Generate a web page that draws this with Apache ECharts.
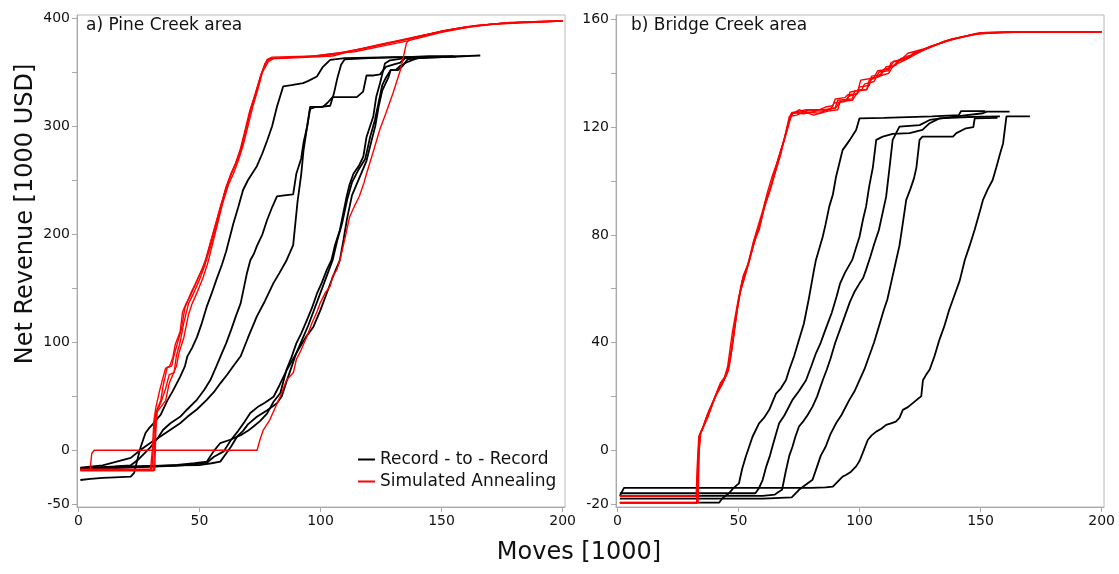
<!DOCTYPE html>
<html>
<head>
<meta charset="utf-8">
<script src="https://cdn.jsdelivr.net/npm/echarts@6/dist/echarts.min.js"></script>
<style>
html,body{margin:0;padding:0;background:#fff;}
#chart{width:1119px;height:574px;}
</style>
</head>
<body>
<div id="chart"></div>
<script>
// ---------- DATA ----------
const panelTitles = ['a) Pine Creek area', 'b) Bridge Creek area'];
const legendNames = ['Record - to - Record', 'Simulated Annealing'];
const xTitle = 'Moves [1000]';
const yTitle = 'Net Revenue [1000 USD]';
const xTicks = [0, 50, 100, 150, 200];
const pineYTicks = [-50, 0, 50, 100, 150, 200, 250, 300, 350, 400];
const pineYLabels = [-50, 0, 100, 200, 300, 400];
const bridgeYTicks = [-20, 0, 20, 40, 60, 80, 100, 120, 140, 160];
const bridgeYLabels = [-20, 0, 40, 80, 120, 160];

// Pine Creek - Record-to-Record
const pineRR1 = [[0.8,-27.5],[5,-26.5],[10,-25.5],[15,-25],[21.6,-24.4],[23,-21],[24.3,-9],[25.7,3],[27.7,16],[29,20],[31,25],[34,33],[36.7,46],[39,55],[42,68],[44,78],[45,87],[47,95],[49,105],[51,118],[53,133],[55,145],[57,158],[59.3,172],[61,184],[64,210],[66,225],[68,241],[70,250],[73.7,263],[76,275],[78,287],[80,300],[82,318],[84.6,337],[88,338],[92.8,340],[95,342],[98.5,346],[101,355],[104,361.5],[110,363],[130,364],[150,364]];
const pineRR2 = [[0.8,-17],[8,-16],[15,-15],[21.5,-14],[25,-8],[29.8,3],[33,12],[35,19],[38,25],[42,31],[45,38],[49,47],[52,56],[54.5,65],[57,78],[58.7,87],[61,99],[63,111],[65,124],[67,136],[69.6,164],[71,176],[72.5,182],[73.7,189],[76,200],[77.9,213],[80,225],[82,235],[85,236],[88.7,237],[90,256],[92,270],[93,285],[94.5,300],[95.7,316],[98,318],[101,318],[103,322],[105,327],[110,327],[115,327],[117.6,332],[119,347],[122,347],[124.6,348],[127,355],[130,357],[133,359],[135.5,364],[145,365],[155,365]];
const pineRR3 = [[0.8,-16],[10,-14],[21.6,-7],[26,1],[29.8,7],[34,13],[38,19],[42,25],[45,31],[49,38],[53,46.6],[56,54],[58.6,62],[61.4,70],[64,78],[67,87],[70,104],[73.7,124],[77,138],[80.6,155],[83,164],[86,176],[88.7,190],[90.5,230],[92,255],[93,278],[94.5,300],[95.7,318],[100,318],[104,319],[105.5,330],[107,345],[108.5,357],[110,362],[120,363],[135,364],[148,364]];
const pineRR4 = [[0.8,-18],[10,-17],[20,-16],[30,-15],[40.8,-13.6],[48,-12],[53,-10.5],[55.8,-1],[58.6,6.7],[63,10],[67,14],[70,18],[72.3,22],[75,27],[77.9,34],[80.6,45],[83.4,53],[86,75],[88,86],[90,99],[92,108],[94.3,120],[96.5,132],[98.5,145],[100.5,155],[102.6,167],[104.5,176],[106,190],[108,204],[110.8,235],[112,246],[113.6,256],[116,264],[117.7,272],[119,290],[121.8,309],[123,327],[124.6,340],[126.6,358],[128.7,361],[135,363],[150,364],[166,365.5]];
const pineRR5 = [[0.8,-16.5],[10,-15.5],[20,-15],[30,-14.5],[40,-14],[50.4,-13.6],[55,-12],[58.6,-10.5],[61,-3],[63,3.3],[65.5,12.6],[68,18],[70,24],[73.7,31],[78,37],[82,43.5],[84,50],[86,64],[88,77],[90,90],[92.5,103],[95,116],[97,128],[99.5,143],[101.5,155],[103.5,167],[105,176],[107,195],[109,211],[111,232],[113,248],[115.5,259],[118.5,270],[120.5,290],[122.5,306],[124,322],[125.5,338],[127,345],[129,352],[131,352],[133,356],[135.5,359],[140,363],[156,364.5]];
const pineRR6 = [[0.8,-17.5],[10,-16.5],[20,-15.5],[30,-15],[40,-14.5],[48,-13],[53,-11.5],[56,-6],[60,-1],[63,9.5],[66,18],[68.5,26],[71,34.5],[74,40],[77,44],[80.6,49.6],[83,60],[86,74],[89,86],[91.6,96],[94,105],[97,114],[100,130],[102.6,145.6],[105,160],[108,176],[109.5,195],[111,215],[113,236],[116,252],[119,268],[121,286],[122.6,300],[124,318],[125.5,333],[128,345],[129,352],[132,352],[134,356],[136,362],[145,364],[160,365]];

// Pine Creek - Simulated Annealing
const pineSA1 = [[0.8,-18],[15,-18],[30.3,-18],[31,5],[31.6,30],[32.5,38],[34,46],[35,60],[36.7,77],[38.5,78],[39.5,88],[41,100],[42.5,112],[44,132],[46.3,145],[48.5,155],[51,167],[53,180],[54.5,192],[56.5,208],[58.6,225],[61,242],[63,256],[65,266],[67,278],[69,295],[71,315],[72.5,325],[73.7,334],[75.5,348],[77.9,361],[80,363],[90,364],[104,366],[113,370],[124,375],[135,380],[150,388],[160,392],[175,395.5],[190,397],[200,397.5]];
const pineSA2 = [[0.8,-19],[15,-19],[31,-19],[31.6,10],[32.2,35],[34,40],[36,46],[37.5,62],[39,70],[40.5,78],[41.5,90],[43.5,104],[45.5,126],[47,136],[49,146],[51.5,160],[53.5,174],[55.5,192],[57.5,210],[59.5,228],[62,246],[64,256],[66,268],[68,282],[70,300],[72,318],[74,333],[76,350],[78.5,360],[81,363],[95,364.5],[104,367],[114,369],[125,374],[136,379],[150,387],[162,392],[178,396],[200,397.5]];
const pineSA3 = [[0.8,-17.5],[15,-17.5],[29.8,-17.5],[30.5,0],[31.2,28],[32,40],[33.5,55],[35,68],[36,76],[37.5,77],[39,86],[40,98],[42,110],[43,128],[44.5,136],[46,142],[48,152],[50.5,165],[52.5,175],[54,188],[56,204],[58,220],[60.5,240],[62.5,252],[64.5,263],[67,280],[69,298],[70.5,312],[73,330],[75,345],[77,358],[79,362.5],[92,363.5],[105,365],[115,371],[125,376],[136,381],[152,389],[165,393.5],[185,396.5],[200,397.5]];
const pineSA4 = [[0.8,-18.5],[15,-18.5],[31.5,-18.5],[32,20],[32.6,37],[34,44],[36,57],[37.5,70],[39.5,72],[40.5,88],[42,100],[43.5,118],[45.5,136],[47.5,145],[50,158],[52,170],[54.5,188],[56.5,204],[59,226],[61,244],[63,256],[65.5,268],[67.5,280],[69.5,300],[71.5,318],[73.5,332],[75.5,348],[78,362],[80,364],[98,365],[108,368],[118,372],[130,378],[142,384],[156,390],[170,394.5],[200,397.5]];
const pineSA5 = [[0.8,-18],[4.8,-18],[5.5,-3],[6.5,0],[20,0],[40,0],[60,0],[73.8,0],[75,10],[76.4,19],[79,28],[81,38],[83.4,50],[86,65],[88.8,72],[90,84],[92,93],[94.3,105],[96.5,118],[98.5,128],[99.8,136],[102,146],[104,152],[105,161],[106.7,167],[108,176],[110,195],[112,216],[114,226],[116,235],[118,248],[119,256],[122,278],[124.5,297],[127,312],[130,331],[133,352],[135.5,377],[137,381],[150,388],[160,392],[175,395.5],[200,397.5]];

// Bridge Creek - Record-to-Record
const bridgeRR1 = [[1,-19.5],[20,-19.5],[42,-19.5],[43.2,-18],[46,-16],[48,-14],[50.2,-12.3],[51.5,-7],[53,-2.4],[55.8,5],[58.5,10],[60.5,12],[62.7,15],[65.5,21],[67.5,23],[69.6,26],[71,30],[73,35],[75,41],[77,47],[79,56],[81.2,67],[82,70.7],[84.8,79.3],[86,84],[87.5,90.5],[89,95],[90.3,101.6],[91.5,106],[93,111.5],[96,115.3],[98.6,119],[100,123.3],[110,123.5],[130,124],[141,124.5],[142,126],[152,126]];
const bridgeRR2 = [[1,-16],[20,-16],[40,-16],[57,-16],[58.5,-14],[60,-11],[61.5,-6],[63,-2],[64,1.3],[65.5,6],[66.8,10],[69,13],[72.3,18.7],[75,22],[77.9,26],[80,31],[82,36],[84,40],[86,45],[88.5,51],[90.5,57],[92,62],[94,66],[97,70.7],[98.5,75],[100,79.3],[101.5,86],[102.7,90.5],[104,98],[105.5,105],[106.9,115.3],[109.6,116.5],[113.7,117.5],[120.7,117.8],[126,119],[129,121.5],[133,123.3],[145,123.8],[158,124]];
const bridgeRR3 = [[1,-17],[20,-17],[40,-17],[60,-17],[65,-16.5],[66.5,-15.5],[68,-14.7],[69.5,-8],[71,-2],[72.3,1.3],[73.5,5],[75,8.8],[77,11],[78.5,13],[80.6,16.2],[82.5,20],[84.8,26],[86.5,30],[88,34],[90,40],[92,45],[94,50],[96,55],[98,59],[100,62],[101.5,64],[102.7,67],[104.5,72],[106.2,77],[108,81.8],[109.5,88],[111,94.2],[112.4,105],[113.7,115.3],[116.5,120.2],[124.8,120.8],[129,122.7],[140,124],[151,125.2],[152.6,125.8],[162,125.8]];
const bridgeRR4 = [[1,-18],[20,-18],[40,-18],[60,-18],[72,-17.5],[75,-14.7],[77.5,-13],[80.6,-11],[82.5,-6],[84,-2],[86,1.3],[88,6],[90.3,10],[92.5,13],[95.8,18.7],[98,22],[100,26],[102,30],[104,35],[106,40],[108,46],[110,52],[111.5,56],[113,62],[115,70],[116.5,76],[117.5,82],[119.3,93],[121,97],[122.5,101],[123.5,105],[124.8,115.3],[126,116.5],[132,116.5],[138.6,116.5],[140,117.8],[144,119.6],[147,120],[147.6,123.3],[157,123.5]];
const bridgeRR5 = [[1,-17],[2.7,-14],[20,-14],[40,-14],[60,-14],[80,-14],[86,-13.8],[89,-13.5],[91.7,-11],[93,-9.8],[94.4,-9.2],[96.5,-8],[98.6,-6],[100,-4],[101.3,-1.1],[103.4,3.8],[105,5.5],[106.9,6.9],[109,8],[111,9.4],[113,10],[115,10.6],[116.5,12],[117.9,15],[120,16],[122,17.5],[124,19],[125.5,20],[126.2,26],[127.5,28],[129,30],[131,35],[133,41],[135,46],[137,52],[139,57],[141.4,63],[143.5,70.7],[145.5,76],[147.6,82],[149.5,88],[151,93],[153,97],[155,100.4],[156.5,105],[158,110],[159.3,114],[160.7,124],[170.4,124]];

// Bridge Creek - Simulated Annealing
const bridgeSA1 = [[1,-17],[20,-17],[32.5,-17],[33,-5],[33.6,5],[35,7.5],[36.4,11.3],[39.2,17.5],[42,23.6],[44,26],[46,30],[48,42],[50,56],[52,65],[54.4,70],[56.5,78],[58.6,82],[60.5,90],[62.7,95.5],[64.5,101],[66,106.6],[67.8,112],[69.6,117.8],[71.7,125],[76.5,125.8],[83.4,125.2],[88,127],[90,127.3],[91,130],[97,130.5],[98,133.5],[103,134],[104,137.5],[108,138.8],[110,141.5],[114,142.5],[116,145],[121,146],[122,147.5],[126,148.7],[137,152.4],[149.7,155],[163,155.5],[200,155.5]];
const bridgeSA2 = [[1,-19.5],[20,-19.5],[33,-19.5],[33.5,-2],[34.2,6],[35.5,9],[37,13],[39.5,18],[42.5,25],[45,28],[47,36],[49,50],[51,60],[53,66],[55.5,74],[57.5,80],[59.5,86],[61.5,93],[63.5,98],[65,104],[67,110],[68.8,115],[70.5,121],[72.5,125.5],[78,126.5],[84,126],[88,126.5],[89.5,129],[94,129.5],[95.5,131.5],[99,132.5],[100.5,137.5],[104,138],[106,138.5],[107.5,141],[112,141.5],[113,144],[117,145],[120,147.5],[128,149.5],[138,152.8],[150,155],[165,155.5],[200,155.5]];
const bridgeSA3 = [[1,-19.5],[20,-19.5],[33.3,-19.5],[33.8,0],[34.5,7],[36,10],[38,15],[40.5,20],[43,24],[45.5,29],[47.5,40],[49.5,53],[51.5,62],[53.5,68],[56,76],[58,81],[60,88],[62,94],[64,100],[65.5,104],[67.5,110],[69,116],[71,124],[74,124.5],[79,126.5],[85,126.5],[90,127],[92,129.5],[95,130],[96,133],[101,134],[102,136],[106,137],[108,140.5],[112,141],[114,144.5],[118,145],[121,146.5],[129,150],[140,153],[152,155.2],[200,155.5]];
const bridgeSA4 = [[1,-17],[20,-17],[33,-17],[33.4,-3],[34,6],[35.5,8.5],[37.5,12.5],[40,19],[42.5,24],[44.5,27],[46.5,33],[48.5,46],[50.5,58],[52.5,64],[55,72],[57,79],[59,84],[61,92],[63,97],[65,103],[66.5,108],[68.5,114],[70.5,120],[72,125.5],[77,125],[82,126],[86,127.5],[89,128],[90,130.5],[94,131],[95,132],[99,132.5],[100,135],[104,135.5],[105,139],[109,139.5],[111,142.5],[115,143],[117,145.5],[125,148],[135,152],[148,154.8],[170,155.5],[200,155.5]];
const bridgeSA5 = [[1,-19.5],[20,-19.5],[32.7,-19.5],[33.2,-4],[33.8,5.5],[35.2,8],[36.8,12],[39,16.5],[41.5,22],[43.5,25],[45.5,31],[47.5,44],[49.5,54],[51.5,63],[54,69],[56,77],[58,83],[60,89],[62,96],[64,102],[66,107],[68,113],[70,119],[71.5,124.5],[75,126.5],[81,124.5],[87,126],[91,126.5],[92,129.5],[97,130],[98.5,132],[100,133.5],[103,134],[105,138],[110,139.5],[112,140],[114,143],[119,145],[127,149],[136,152],[147,154.5],[160,155.3],[200,155.5]];

const pineRR = [pineRR1, pineRR2, pineRR3, pineRR4, pineRR5, pineRR6];
const pineSA = [pineSA1, pineSA2, pineSA3, pineSA4, pineSA5];
const bridgeRR = [bridgeRR1, bridgeRR2, bridgeRR3, bridgeRR4, bridgeRR5];
const bridgeSA = [bridgeSA1, bridgeSA2, bridgeSA3, bridgeSA4, bridgeSA5];

// ---------- CHART ----------
const FONT = 'DejaVu Sans';
const AXIS_GRAY = '#a8a8a8';
const BLACK = '#000000';
const RED = '#ff0000';

function xAxisCfg(gi) {
  return {
    type: 'value', gridIndex: gi, min: -0.6, max: 201,
    axisLine: { show: true, onZero: false, lineStyle: { color: AXIS_GRAY, width: 1 } },
    axisTick: { show: true, length: 5, customValues: xTicks, lineStyle: { color: AXIS_GRAY } },
    axisLabel: { customValues: xTicks, fontSize: 14, fontFamily: FONT, color: '#111', margin: 7 },
    splitLine: { show: false }
  };
}
function yAxisCfg(gi, min, max, ticks, labels) {
  return {
    type: 'value', gridIndex: gi, min: min, max: max,
    axisLine: { show: true, onZero: false, lineStyle: { color: AXIS_GRAY, width: 1 } },
    axisTick: { show: true, length: 5, customValues: ticks, lineStyle: { color: AXIS_GRAY } },
    axisLabel: { customValues: labels, fontSize: 14, fontFamily: FONT, color: '#111', margin: 7 },
    splitLine: { show: false }
  };
}

const series = [];
function addSeries(list, name, color, width, gi) {
  list.forEach(function (d) {
    series.push({
      type: 'line', name: name, data: d, xAxisIndex: gi, yAxisIndex: gi,
      showSymbol: false, symbol: 'none', animation: false, silent: true,
      lineStyle: { color: color, width: width }, itemStyle: { color: color },
      z: color === RED ? 3 : 2
    });
  });
}
addSeries(pineRR, legendNames[0], BLACK, 1.8, 0);
addSeries(bridgeRR, legendNames[0], BLACK, 1.8, 1);
addSeries(pineSA, legendNames[1], RED, 1.4, 0);
addSeries(bridgeSA, legendNames[1], RED, 1.4, 1);

const chart = echarts.init(document.getElementById('chart'), null, { renderer: 'canvas' });
chart.setOption({
  animation: false,
  backgroundColor: '#ffffff',
  grid: [
    { left: 77, top: 15, width: 488, height: 492, show: true, borderColor: '#b8b8b8', borderWidth: 1, backgroundColor: 'transparent' },
    { left: 616, top: 15, width: 488, height: 492, show: true, borderColor: '#b8b8b8', borderWidth: 1, backgroundColor: 'transparent' }
  ],
  xAxis: [xAxisCfg(0), xAxisCfg(1)],
  yAxis: [
    yAxisCfg(0, -52.5, 403, pineYTicks, pineYLabels),
    yAxisCfg(1, -21.1, 161.7, bridgeYTicks, bridgeYLabels)
  ],
  legend: {
    data: legendNames,
    orient: 'vertical',
    left: 353, top: 446,
    icon: 'rect', itemWidth: 17, itemHeight: 2, itemGap: 5,
    textStyle: { fontSize: 17, fontFamily: FONT, color: '#111' },
    selectedMode: false
  },
  graphic: [
    { type: 'text', left: 86, top: 17, style: { text: panelTitles[0], font: '17px "DejaVu Sans"', fill: '#111' } },
    { type: 'text', left: 631, top: 17, style: { text: panelTitles[1], font: '17px "DejaVu Sans"', fill: '#111' } },
    { type: 'text', x: 26, y: 214, rotation: Math.PI / 2, style: { text: yTitle, font: '24px "DejaVu Sans"', fill: '#111', align: 'center', verticalAlign: 'middle' } },
    { type: 'text', x: 579, y: 553, style: { text: xTitle, font: '24px "DejaVu Sans"', fill: '#111', align: 'center', verticalAlign: 'middle' } }
  ],
  series: series
});
</script>
</body>
</html>
